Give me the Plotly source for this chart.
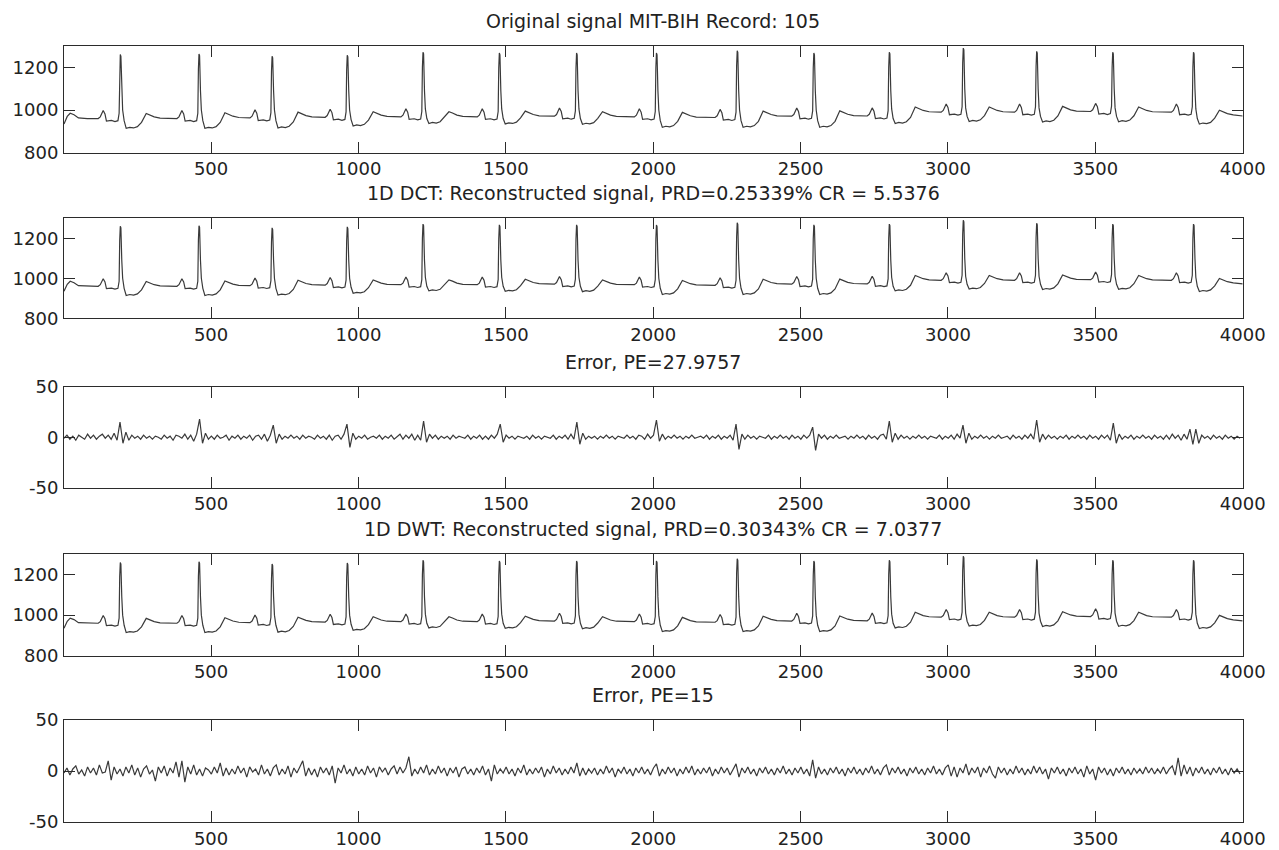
import numpy as np
import plotly.graph_objects as go

# ---------------- data ----------------
titles = [
    "Original signal MIT-BIH Record: 105",
    "1D DCT: Reconstructed signal, PRD=0.25339% CR = 5.5376",
    "Error, PE=27.9757",
    "1D DWT: Reconstructed signal, PRD=0.30343% CR = 7.0377",
    "Error, PE=15",
]
x_ticks = [500, 1000, 1500, 2000, 2500, 3000, 3500, 4000]
ecg_ticks = [800, 1000, 1200]
err_ticks = [-50, 0, 50]
err_tick_text = ["-50", "0", "50"]

# ECG vertices (sample index, amplitude)
ecg_x = [1, 12, 22, 35, 50, 80,
    117,124,134,140,145,162,174,184,188,190,192,194,197,200,205,212,224,237,250,264,280,292,307,327,352,
    384,391,401,407,412,429,441,451,455,457,459,461,464,467,472,479,491,504,517,531,547,559,574,594,619,
    632,639,649,655,660,677,689,699,703,705,707,709,712,715,720,727,739,752,765,779,795,807,822,842,867,
    887,894,904,910,915,932,944,954,958,960,962,964,967,970,975,982,994,1007,1020,1034,1050,1062,1077,1097,1122,
    1144,1151,1161,1167,1172,1189,1201,1211,1215,1217,1219,1221,1224,1227,1232,1239,1251,1264,1277,1291,1307,1319,1334,1354,1379,
    1403,1410,1420,1426,1431,1448,1460,1470,1474,1476,1478,1480,1483,1486,1491,1498,1510,1523,1536,1550,1566,1578,1593,1613,1638,
    1665,1672,1682,1688,1693,1710,1722,1732,1736,1738,1740,1742,1745,1748,1753,1760,1772,1785,1798,1812,1828,1840,1855,1875,1900,
    1936,1943,1953,1959,1964,1981,1993,2003,2007,2009,2011,2013,2016,2019,2024,2031,2043,2056,2069,2083,2099,2111,2126,2146,2171,
    2210,2217,2227,2233,2238,2255,2267,2277,2281,2283,2285,2287,2290,2293,2298,2305,2317,2330,2343,2357,2373,2385,2400,2420,2445,
    2470,2477,2487,2493,2498,2515,2527,2537,2541,2543,2545,2547,2550,2553,2558,2565,2577,2590,2603,2617,2633,2645,2660,2680,2705,
    2726,2733,2743,2749,2754,2771,2783,2793,2797,2799,2801,2803,2806,2809,2814,2821,2833,2846,2859,2873,2889,2901,2916,2936,2961,
    2977,2984,2994,3000,3005,3022,3034,3044,3048,3050,3052,3054,3057,3060,3065,3072,3084,3097,3110,3124,3140,3152,3167,3187,3212,
    3226,3233,3243,3249,3254,3271,3283,3293,3297,3299,3301,3303,3306,3309,3314,3321,3333,3346,3359,3373,3389,3401,3416,3436,3461,
    3484,3491,3501,3507,3512,3529,3541,3551,3555,3557,3559,3561,3564,3567,3572,3579,3591,3604,3617,3631,3647,3659,3674,3694,3719,
    3758,3765,3775,3781,3786,3803,3815,3825,3829,3831,3833,3835,3838,3841,3846,3853,3865,3878,3891,3905,3921,3933,3948,3968,4000,
]
ecg_y = [935, 970, 985, 978, 963, 960,
    960,968,998,982,948,951,946,950,985,1190,1260,1252,1090,1000,950,914,919,916,922,942,984,978,968,962,960,
    960,968,998,982,948,951,946,950,985,1193,1263,1255,1090,1000,950,914,919,916,922,942,987,981,971,965,963,
    963,971,1001,985,951,954,949,953,988,1182,1252,1244,1090,1000,950,916,921,918,924,944,990,984,974,968,966,
    966,974,1004,988,954,957,952,956,991,1187,1257,1249,1090,1000,955,925,930,927,933,953,992,986,976,970,968,
    968,976,1006,990,956,959,954,958,993,1201,1271,1263,1090,1005,960,937,942,939,945,965,992,986,976,970,968,
    968,976,1006,990,956,959,954,958,993,1197,1267,1259,1090,1005,960,935,940,937,943,963,995,989,979,973,971,
    971,979,1009,993,959,962,957,961,996,1197,1267,1259,1090,1005,960,933,938,935,941,961,992,986,976,970,968,
    968,976,1006,990,956,959,954,958,993,1197,1267,1259,1090,1000,950,919,924,921,927,947,989,983,973,967,965,
    965,973,1003,987,953,956,951,955,990,1208,1278,1270,1090,1000,950,919,924,921,927,947,995,989,979,973,971,
    971,979,1009,993,959,962,957,961,996,1197,1267,1259,1090,1000,950,919,924,921,927,947,996,990,980,974,972,
    972,980,1010,994,960,963,958,962,997,1201,1271,1263,1090,1005,960,937,942,939,945,965,1014,1008,998,992,990,
    990,998,1028,1012,978,981,976,980,1015,1220,1290,1282,1100,1010,970,946,951,948,954,974,1014,1008,998,992,990,
    990,998,1028,1012,978,981,976,980,1015,1205,1275,1267,1100,1010,970,944,949,946,952,972,1017,1011,1001,995,993,
    993,1001,1031,1015,981,984,979,983,1018,1201,1271,1263,1100,1010,970,945,950,947,953,973,1014,1008,998,992,990,
    990,998,1028,1012,978,981,976,980,1015,1201,1271,1263,1100,1005,960,934,939,936,942,962,999,993,983,977,972,
]

# error traces, one value every 10 samples starting at sample 1
err_step = 10
dct_err = [
    -1, 2, -2, 1, -3, 2, 0, -2, 3, -1,
    2, -2, 1, 3, -1, 2, -2, 4, -3, 15,
    -6, 5, -3, 2, -1, 1, -2, 2, -1, 1,
    -2, 1, 0, -2, 2, -1, 1, -3, 2, 1,
    -1, 3, -2, 2, -4, 3, 18, -6, 4, -2,
    1, -2, 2, -1, 0, 2, -3, 1, -1, 2,
    -2, 1, -1, 2, -3, 1, 2, -2, 3, -4,
    2, 12, -6, 3, -2, 1, -1, 2, -1, 1,
    -2, 2, -1, 1, 0, -2, 2, -1, 1, -2,
    2, -3, 1, 2, -2, 3, 13, -10, 4, -2,
    1, -1, 2, -2, 0, 1, -1, 2, -2, 1,
    -1, 2, -2, 1, 3, -2, 2, -1, 3, -3,
    2, -3, 16, -5, 3, -1, 2, -2, 1, -1,
    1, -2, 2, -1, 1, 0, -1, 2, -2, 1,
    -1, 2, -2, 1, -2, 2, -1, 3, 13, -5,
    2, -1, 1, -2, 1, 0, -1, 1, -2, 2,
    -1, 1, -2, 1, 0, -1, 2, -2, 1, -1,
    2, -2, 3, -2, 15, -7, 4, -2, 1, -1,
    1, -2, 1, -1, 2, -1, 1, -2, 1, 0,
    -1, 2, -1, 1, -2, 2, 1, -2, 3, -1,
    2, 17, -4, 3, -2, 1, -1, 2, -1, 1,
    -2, 1, -1, 2, -1, 0, 1, -1, 2, -2,
    1, -1, 2, -2, 1, -1, 2, -3, 13, -12,
    3, -2, 2, -1, 1, -2, 1, 0, -1, 2,
    -2, 1, -1, 2, -1, 1, -2, 2, -1, 1,
    -2, 2, -1, 2, 10, -13, 3, -1, 2, -2,
    1, -1, 2, -1, 0, 1, -2, 1, -1, 2,
    -1, 1, -2, 2, -1, 1, -2, 2, 3, -2,
    16, -5, 4, -2, 2, -1, 1, -2, 1, -1,
    2, -1, 1, -2, 1, 0, -1, 2, -2, 1,
    -1, 2, -2, 3, -1, 12, -6, 4, -2, 1,
    -1, 2, -1, 1, -2, 1, -1, 2, -1, 0,
    1, -2, 2, -1, 1, -2, 2, -1, 3, -2,
    17, -5, 3, -2, 2, -1, 1, -2, 1, -1,
    2, -2, 1, -1, 2, -1, 1, -2, 2, -1,
    1, -2, 2, -1, 2, -3, 14, -6, 3, -2,
    1, -1, 2, -2, 1, -1, 2, -1, 1, -2,
    2, -1, 1, -2, 2, -2, 3, -1, 2, -3,
    3, -2, 8, -7, 8, -6, 2, -1, 1, -2,
    2, -1, 1, -2, 2, -1, 1, -2, 1, -1,
]
dwt_err = [
    -2, 3, -4, 2, 5, -3, 1, -5, 4, -2,
    3, -4, 6, -2, -1, 10, -9, 4, -3, 2,
    -5, 4, -2, 6, -4, 3, -6, 2, 5, -3,
    1, -10, 4, -2, 5, -5, 3, -2, 9, -6,
    10, -11, 4, -3, 6, -4, 2, -5, 3, 1,
    -3, 4, -2, 8, -5, 3, -4, 2, -3, 5,
    -2, 3, -6, 4, -1, 2, -4, 6, -3, 2,
    -5, 3, 6, -4, 2, -3, 5, -6, 3, -2,
    4, 10, -5, 3, -4, 2, -6, 4, -2, 3,
    -4, 5, -12, 3, -2, 6, -3, 2, -5, 4,
    -3, 2, -4, 5, -2, 3, -6, 4, -1, 3,
    -4, 2, 5, -3, 4, -2, 3, 14, -5, 2,
    -3, 4, -2, 6, -4, 2, -3, 5, -2, 3,
    -5, 3, -2, 4, -6, 2, 4, -3, 2, -4,
    3, -2, 5, -4, 2, -10, 6, -3, 2, -2,
    4, -3, 2, -5, 3, -2, 6, -4, 2, -3,
    3, -2, 4, -6, 2, -3, 5, -2, 3, -4,
    2, -3, 4, -2, 8, -5, 3, -4, 2, -2,
    3, -4, 2, -3, 5, -2, 3, -6, 2, -2,
    4, -3, 2, -5, 3, -2, 4, -3, 2, -4,
    3, 7, -5, 2, -3, 4, -2, 3, -5, 2,
    -3, 4, -2, 5, -4, 2, -3, 3, -2, 4,
    -5, 2, -3, 4, -2, 3, -4, 2, 7, -6,
    3, -2, 4, -3, 2, -5, 3, -2, 4, -3,
    2, -4, 3, -2, 5, -3, 2, -4, 3, -2,
    4, -3, 2, -5, 11, -7, 4, -3, 2, -4,
    3, -2, 4, -3, 2, -5, 3, -2, 4, -3,
    2, -4, 3, -2, 5, -3, 2, -4, 3, 6,
    -4, 3, -2, 4, -3, 2, -5, 3, -2, 4,
    -3, 2, -4, 3, -2, 5, -3, 2, -4, 3,
    6, -5, 4, -6, 3, -2, 7, -4, 3, -2,
    4, -6, 3, -2, 5, -3, -7, 4, -2, 3,
    -4, 2, -3, 5, -2, 3, -4, 2, -3, 5,
    -2, 4, -3, 2, -8, 3, -2, 4, -3, 2,
    -5, 3, -2, 4, -3, 2, -6, 5, -3, 2,
    -9, 4, -2, 3, -4, 2, -5, 3, -2, 4,
    -3, 2, -4, 3, -2, 2, -3, 4, -2, 3,
    -3, 2, -2, 4, -3, 2, 5, -4, 13, -5,
    6, -3, 4, -5, 3, -2, 4, -3, 2, -4,
    3, -2, 4, -3, 2, -4, 3, -2, 2, -3,
]
err_x = list(range(1, 1 + err_step * len(dct_err), err_step))

# ---------------- figure ----------------
W, H = 1279, 850
x_left, x_right = 64, 1242.7
panel_px = [(46, 152.7), (218.3, 318.3), (386.7, 487.7), (554.3, 655.7), (720, 822)]

series = [
    (ecg_x, ecg_y, [800, 1300], ecg_ticks, [str(v) for v in ecg_ticks]),
    (ecg_x, ecg_y, [800, 1300], ecg_ticks, [str(v) for v in ecg_ticks]),
    (err_x, dct_err, [-50, 50], err_ticks, err_tick_text),
    (ecg_x, ecg_y, [800, 1300], ecg_ticks, [str(v) for v in ecg_ticks]),
    (err_x, dwt_err, [-50, 50], err_ticks, err_tick_text),
]

FONT = "DejaVu Sans"
axcol = "#2b2b2b"
txtcol = "#222222"
fig = go.Figure()
layout = dict(
    template="none",
    width=W, height=H,
    margin=dict(l=0, r=0, t=0, b=0, pad=0),
    paper_bgcolor="white", plot_bgcolor="white",
    showlegend=False,
    font=dict(family=FONT, size=18, color=txtcol),
)
annotations = []
xd = [x_left / W, x_right / W]
for i, ((xs, ys, yr, yt, ytt), (top, bot)) in enumerate(zip(series, panel_px)):
    n = i + 1
    xa = "x" if n == 1 else f"x{n}"
    ya = "y" if n == 1 else f"y{n}"
    fig.add_trace(go.Scatter(x=xs, y=ys, mode="lines", xaxis=xa, yaxis=ya,
                             line=dict(color="#3a3a3a", width=1.2), hoverinfo="skip"))
    common = dict(showline=True, linecolor=axcol, linewidth=1, mirror="ticks",
                  ticks="inside", ticklen=11, tickcolor=axcol, tickwidth=1,
                  showgrid=False, zeroline=False, automargin=False,
                  tickfont=dict(family=FONT, size=18, color=txtcol))
    layout[f"xaxis{n}" if n > 1 else "xaxis"] = dict(
        domain=xd, range=[1, 4000], tickvals=x_ticks,
        ticktext=[str(v) for v in x_ticks], ticklabelstandoff=0,
        anchor=ya, **common)
    layout[f"yaxis{n}" if n > 1 else "yaxis"] = dict(
        domain=[1 - bot / H, 1 - top / H], range=yr, tickvals=yt, ticktext=ytt,
        ticklabelstandoff=1, anchor=xa, **common)
    annotations.append(dict(
        text=titles[i], xref="paper", yref="paper",
        x=(xd[0] + xd[1]) / 2, y=1 - top / H, xanchor="center", yanchor="middle",
        yshift=25, showarrow=False, font=dict(family=FONT, size=19, color=txtcol)))
layout["annotations"] = annotations
fig.update_layout(**layout)
fig.write_html(
    "out.html",
    config={"displayModeBar": False},
    post_script="document.body.style.margin='0';document.body.style.overflow='hidden';",
)
